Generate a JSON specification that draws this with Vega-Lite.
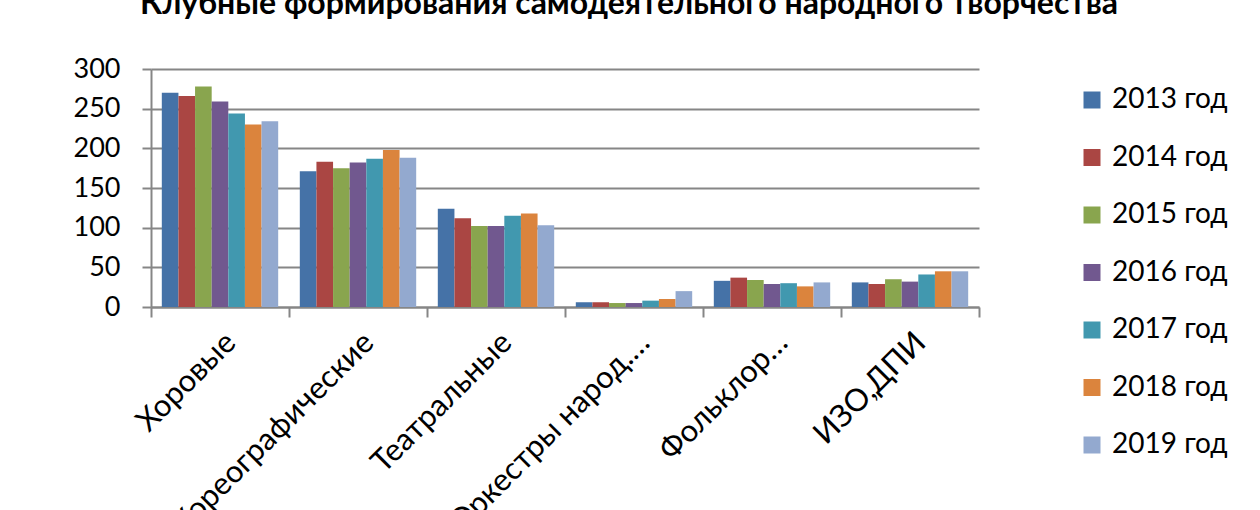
{
  "$schema": "https://vega.github.io/schema/vega-lite/v6.json",
  "width": 828,
  "height": 238,
  "autosize": {"type": "none"},
  "padding": {"left": 151, "top": 69, "right": 281, "bottom": 203},
  "background": "white",
  "title": {
    "text": "Клубные формирования самодеятельного народного творчества",
    "font": "Lato",
    "fontSize": 32,
    "fontWeight": "bold",
    "color": "#000000",
    "anchor": "middle",
    "frame": "group",
    "dx": 64,
    "baseline": "alphabetic",
    "offset": 9
  },
  "data": {
    "values": [
      {"category": "Хоровые", "year": "2013 год", "value": 270},
      {"category": "Хоровые", "year": "2014 год", "value": 266},
      {"category": "Хоровые", "year": "2015 год", "value": 278},
      {"category": "Хоровые", "year": "2016 год", "value": 259},
      {"category": "Хоровые", "year": "2017 год", "value": 244},
      {"category": "Хоровые", "year": "2018 год", "value": 230},
      {"category": "Хоровые", "year": "2019 год", "value": 234},
      {"category": "Хореографические", "year": "2013 год", "value": 171},
      {"category": "Хореографические", "year": "2014 год", "value": 183},
      {"category": "Хореографические", "year": "2015 год", "value": 175},
      {"category": "Хореографические", "year": "2016 год", "value": 182},
      {"category": "Хореографические", "year": "2017 год", "value": 187},
      {"category": "Хореографические", "year": "2018 год", "value": 198},
      {"category": "Хореографические", "year": "2019 год", "value": 188},
      {"category": "Театральные", "year": "2013 год", "value": 124},
      {"category": "Театральные", "year": "2014 год", "value": 112},
      {"category": "Театральные", "year": "2015 год", "value": 102},
      {"category": "Театральные", "year": "2016 год", "value": 102},
      {"category": "Театральные", "year": "2017 год", "value": 115},
      {"category": "Театральные", "year": "2018 год", "value": 118},
      {"category": "Театральные", "year": "2019 год", "value": 103},
      {"category": "Оркестры народ.…", "year": "2013 год", "value": 6},
      {"category": "Оркестры народ.…", "year": "2014 год", "value": 6},
      {"category": "Оркестры народ.…", "year": "2015 год", "value": 5},
      {"category": "Оркестры народ.…", "year": "2016 год", "value": 5},
      {"category": "Оркестры народ.…", "year": "2017 год", "value": 8},
      {"category": "Оркестры народ.…", "year": "2018 год", "value": 10},
      {"category": "Оркестры народ.…", "year": "2019 год", "value": 20},
      {"category": "Фольклор…", "year": "2013 год", "value": 33},
      {"category": "Фольклор…", "year": "2014 год", "value": 37},
      {"category": "Фольклор…", "year": "2015 год", "value": 34},
      {"category": "Фольклор…", "year": "2016 год", "value": 29},
      {"category": "Фольклор…", "year": "2017 год", "value": 30},
      {"category": "Фольклор…", "year": "2018 год", "value": 26},
      {"category": "Фольклор…", "year": "2019 год", "value": 31},
      {"category": "ИЗО,ДПИ", "year": "2013 год", "value": 31},
      {"category": "ИЗО,ДПИ", "year": "2014 год", "value": 29},
      {"category": "ИЗО,ДПИ", "year": "2015 год", "value": 35},
      {"category": "ИЗО,ДПИ", "year": "2016 год", "value": 32},
      {"category": "ИЗО,ДПИ", "year": "2017 год", "value": 41},
      {"category": "ИЗО,ДПИ", "year": "2018 год", "value": 45},
      {"category": "ИЗО,ДПИ", "year": "2019 год", "value": 45}
    ]
  },
  "mark": {"type": "bar"},
  "encoding": {
    "x": {
      "field": "category",
      "type": "nominal",
      "sort": null,
      "scale": {"paddingInner": 0, "paddingOuter": 0},
      "axis": {
        "title": null,
        "labelAngle": -45,
        "labelFont": "Lato",
        "labelFontSize": 31,
        "labelColor": "#000000",
        "labelPadding": 10,
        "labelOffset": 0,
        "labelLimit": 0,
        "labelOverlap": false,
        "tickBand": "extent",
        "tickSize": 10,
        "tickWidth": 2,
        "tickColor": "#868686",
        "domainColor": "#868686",
        "domainWidth": 2,
        "grid": false
      }
    },
    "xOffset": {
      "field": "year",
      "type": "nominal",
      "scale": {"paddingInner": 0, "paddingOuter": 0.65}
    },
    "y": {
      "field": "value",
      "type": "quantitative",
      "scale": {"domain": [0, 300]},
      "axis": {
        "title": null,
        "values": [0, 50, 100, 150, 200, 250, 300],
        "labelFont": "Lato",
        "labelFontSize": 27,
        "labelColor": "#000000",
        "labelPadding": 22,
        "tickSize": 9,
        "tickWidth": 2,
        "tickColor": "#868686",
        "domainColor": "#868686",
        "domainWidth": 2,
        "gridColor": "#868686",
        "gridWidth": 2
      }
    },
    "color": {
      "field": "year",
      "type": "nominal",
      "scale": {
        "domain": ["2013 год", "2014 год", "2015 год", "2016 год", "2017 год", "2018 год", "2019 год"],
        "range": ["#4572A7", "#AA4643", "#89A54E", "#71588F", "#4198AF", "#DB843D", "#93A9CF"]
      },
      "legend": {
        "title": null,
        "orient": "none",
        "legendX": 927,
        "legendY": 17,
        "symbolType": "square",
        "symbolSize": 289,
        "symbolStrokeWidth": 0,
        "labelFont": "Lato",
        "labelFontSize": 28,
        "labelColor": "#000000",
        "labelOffset": 6,
        "rowPadding": 29.5
      }
    }
  },
  "config": {"view": {"stroke": null}}
}
